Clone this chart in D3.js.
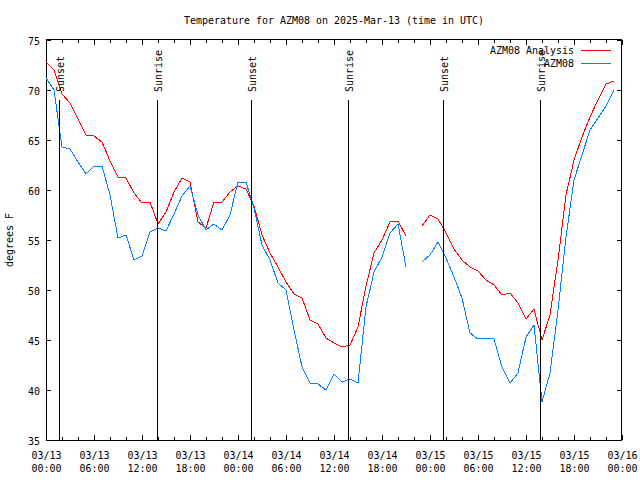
<!DOCTYPE html>
<html>
<head>
<meta charset="utf-8">
<script src="https://cdn.jsdelivr.net/npm/d3@7"></script>
<style>
  body { margin: 0; background: #fff; }
  svg { display: block; }
  text { font-family: "DejaVu Sans Mono", "Liberation Mono", monospace; font-size: 11px; fill: #000; }
</style>
</head>
<body>
<svg id="chart" width="640" height="480"></svg>
<script>
// ---------------- data ----------------
const chartTitle = "Temperature for AZM08 on 2025-Mar-13 (time in UTC)";
const yLabel = "degrees F";
const seriesNames = ["AZM08 Analysis", "AZM08"];

// hours after 2025-03-13 00:00 UTC
const hours = [0,1,2,3,4,5,6,7,8,9,10,11,12,13,14,15,16,17,18,19,20,21,22,23,
               24,25,26,27,28,29,30,31,32,33,34,35,36,37,38,39,40,41,42,43,44,45,46,47,
               48,49,50,51,52,53,54,55,56,57,58,59,60,61,62,63,64,65,66,67,68,69,70,71];

const analysisTemps = [72.8,72.0,69.6,68.7,67.1,65.5,65.4,64.8,62.9,61.3,61.2,59.7,58.7,58.8,56.6,57.8,59.8,61.2,60.8,56.8,56.2,58.8,58.8,59.8,
                       60.4,60.1,58.4,55.5,53.7,52.3,50.8,49.6,49.2,47.0,46.6,45.2,44.7,44.3,44.5,46.3,50.4,53.7,55.0,56.8,56.9,55.4,null,56.4,
                       57.5,57.1,55.7,54.1,53.0,52.3,51.9,51.0,50.5,49.5,49.7,48.7,47.1,48.1,45.0,47.5,53.0,59.5,63.0,65.3,67.3,69.0,70.6,70.9];

const stationTemps  = [71.2,70.0,64.3,64.1,62.8,61.6,62.4,62.4,59.5,55.2,55.5,53.0,53.4,55.8,56.2,55.9,57.6,59.4,60.4,57.5,56.0,56.6,56.0,57.5,
                       60.8,60.8,58.2,54.5,53.0,50.7,50.0,46.0,42.3,40.7,40.6,40.0,41.6,40.8,41.1,40.7,48.3,51.8,53.3,55.7,56.6,52.3,null,52.8,
                       53.5,54.8,53.2,51.3,49.2,45.7,45.1,45.2,45.1,42.3,40.7,41.7,45.3,46.5,38.8,41.7,48.0,55.3,61.0,63.5,66.0,67.2,68.4,70.0];

const yTicks = [35,40,45,50,55,60,65,70,75];
const xMajorHours = [0,6,12,18,24,30,36,42,48,54,60,66,72];
const xMinorHours = [2,4,8,10,14,16,20,22,26,28,32,34,38,40,44,46,50,52,56,58,62,64,68,70];
const xTickDates = ["03/13","03/13","03/13","03/13","03/14","03/14","03/14","03/14","03/15","03/15","03/15","03/15","03/16"];
const xTickTimes = ["00:00","06:00","12:00","18:00","00:00","06:00","12:00","18:00","00:00","06:00","12:00","18:00","00:00"];

const sunLabels = ["Sunset","Sunrise","Sunset","Sunrise","Sunset","Sunrise"];
const sunHours  = [1.68, 13.93, 25.68, 37.81, 49.68, 61.81];

const colors = ["#ff0000", "#0080ff"];

// ---------------- layout ----------------
const svg = d3.select("#chart");
const L = 46, R = 622, T = 40, B = 440;
const CW = 6; // character cell width

const x = d3.scaleLinear().domain([0, 72]).range([L, R]);
const y = d3.scaleLinear().domain([35, 75]).range([B, T]);

function fitText(sel) {
  sel.each(function() {
    const t = d3.select(this).text();
    d3.select(this).attr("textLength", t.length * CW).attr("lengthAdjust", "spacingAndGlyphs");
  });
  return sel;
}

// title
fitText(svg.append("text").attr("x", (L + R) / 2).attr("y", 24)
  .attr("text-anchor", "middle").text(chartTitle));

// y label
fitText(svg.append("text").attr("transform", "translate(13,240) rotate(-90)")
  .attr("text-anchor", "middle").text(yLabel));

// axes
const gx = svg.append("g").attr("transform", `translate(0,${B})`)
  .call(d3.axisBottom(x).tickValues(xMajorHours).tickSize(-5).tickFormat(""));
const gxm = svg.append("g").attr("transform", `translate(0,${B})`)
  .call(d3.axisBottom(x).tickValues(xMinorHours).tickSize(-3).tickFormat(""));
const gxt = svg.append("g").attr("transform", `translate(0,${T})`)
  .call(d3.axisTop(x).tickValues(xMajorHours).tickSize(-5).tickFormat(""));
const gxtm = svg.append("g").attr("transform", `translate(0,${T})`)
  .call(d3.axisTop(x).tickValues(xMinorHours).tickSize(-3).tickFormat(""));
const gy = svg.append("g").attr("transform", `translate(${L},0)`)
  .call(d3.axisLeft(y).tickValues(yTicks).tickSize(-5).tickPadding(6).tickFormat(d3.format("d")));
const gyr = svg.append("g").attr("transform", `translate(${R},0)`)
  .call(d3.axisRight(y).tickValues(yTicks).tickSize(-5).tickFormat(""));

[gx, gxm, gxt, gxtm, gy, gyr].forEach(g => {
  g.select(".domain").remove();
  g.selectAll("line").attr("stroke", "#000").attr("shape-rendering", "crispEdges");
  g.attr("font-family", null).attr("font-size", null);
});
gy.selectAll("text").attr("dy", null).attr("y", 4).attr("fill", "#000");
fitText(gy.selectAll("text"));

// two-line x tick labels
gx.selectAll(".tick").each(function(d, i) {
  const g = d3.select(this);
  g.select("text").remove();
  fitText(g.append("text").attr("y", 19).attr("text-anchor", "middle").text(xTickDates[i]));
  fitText(g.append("text").attr("y", 32).attr("text-anchor", "middle").text(xTickTimes[i]));
});

// border
svg.append("rect").attr("x", L + 0.5).attr("y", T - 0.5).attr("width", R - L - 1).attr("height", B - T + 1)
  .attr("fill", "none").attr("stroke", "#000").attr("shape-rendering", "crispEdges");

// series
const line = d3.line()
  .defined(d => d[1] != null)
  .x(d => x(d[0]))
  .y(d => y(d[1]));

const seriesData = [analysisTemps, stationTemps];
seriesData.forEach((vals, si) => {
  svg.append("path")
    .datum(hours.map((h, i) => [h, vals[i]]))
    .attr("d", line)
    .attr("fill", "none")
    .attr("stroke", colors[si])
    .attr("stroke-width", 1)
    .attr("shape-rendering", "crispEdges");
});

// sun lines
sunHours.forEach((h, i) => {
  const px = Math.round(x(h)) + 0.5;
  svg.append("line").attr("x1", px).attr("x2", px).attr("y1", y(69)).attr("y2", B)
    .attr("stroke", "#000").attr("shape-rendering", "crispEdges");
  fitText(svg.append("text").attr("transform", `translate(${px + 4.5},92) rotate(-90)`)
    .attr("text-anchor", "start").text(sunLabels[i]));
});

// legend
seriesNames.forEach((name, i) => {
  const ly = 50 + i * 12.5;
  fitText(svg.append("text").attr("x", 574).attr("y", ly + 4).attr("text-anchor", "end").text(name));
  svg.append("line").attr("x1", 581).attr("x2", 611).attr("y1", Math.round(ly) + 0.5).attr("y2", Math.round(ly) + 0.5)
    .attr("stroke", colors[i]).attr("shape-rendering", "crispEdges");
});
</script>
</body>
</html>
